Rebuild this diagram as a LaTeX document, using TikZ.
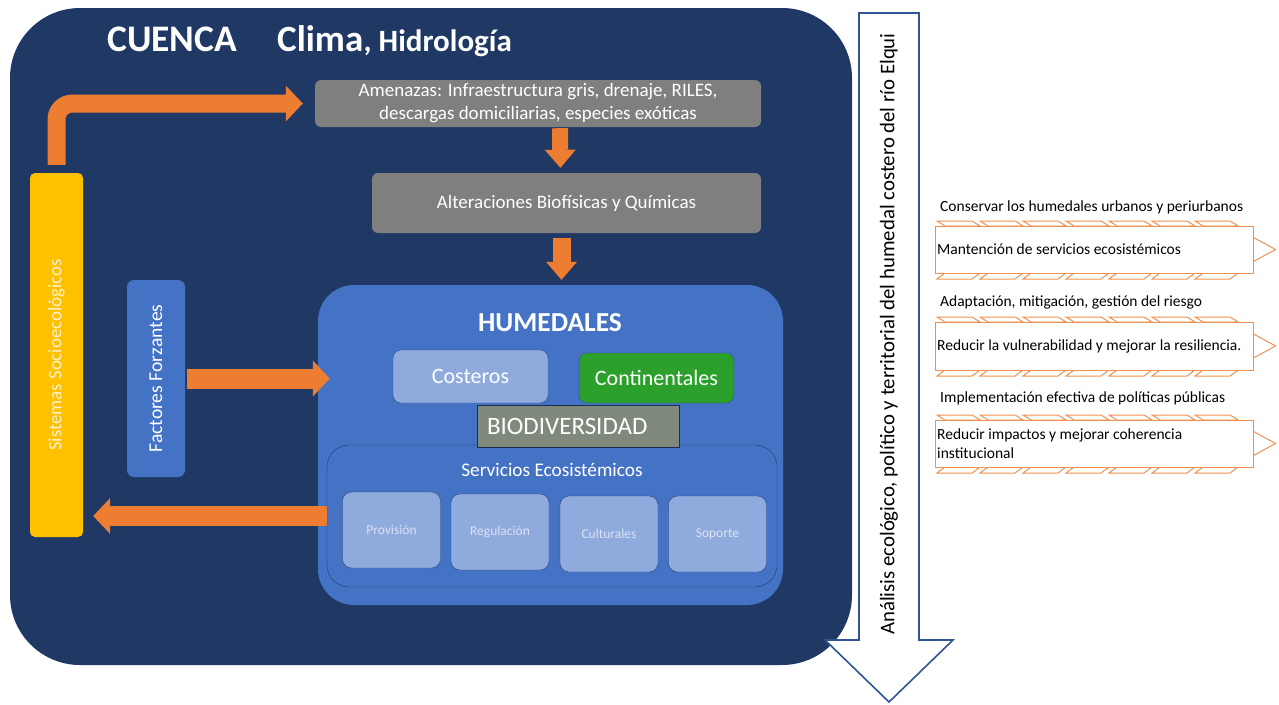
\documentclass[tikz,border=0pt]{standalone}
\usepackage{fontspec}
\setmainfont{Carlito}
\usepackage{tikz}
\usetikzlibrary{arrows.meta,positioning}
\definecolor{cuencablue}{RGB}{32,56,100}
\definecolor{naranja}{RGB}{237,125,49}
\definecolor{gris}{RGB}{127,127,127}
\definecolor{humblue}{RGB}{68,114,196}
\definecolor{celeste}{RGB}{143,170,220}
\definecolor{verde}{RGB}{43,160,43}
\definecolor{biogris}{RGB}{128,138,124}
\definecolor{amarillo}{RGB}{255,192,0}
\definecolor{crema}{RGB}{255,242,204}
\definecolor{flecha}{RGB}{47,85,151}
\definecolor{textoclaro}{RGB}{220,228,243}
\newcommand{\fsz}[2]{\fontsize{#1}{#2}\selectfont}

\begin{document}
\begin{tikzpicture}[x=1pt,y=-1pt,
  caja/.style={rounded corners=6pt, inner sep=0pt, align=center, text=white, font=\fsz{19}{23}},
  titulo/.style={anchor=base west, inner sep=0pt, text=white, font=\bfseries\fsz{37.5}{42}},
  flechita/.style={draw=naranja, line width=18pt, -{Triangle[width=36pt,length=17pt,line width=0pt]}},
  bajada/.style={draw=naranja, line width=16pt, -{Triangle[width=31pt,length=18pt,line width=0pt]}},
  servicio/.style={caja, fill=celeste, draw=humblue!60!black, minimum width=98pt, minimum height=76pt,
    rounded corners=9pt, text=textoclaro, font=\fsz{13.5}{16}},
  objetivo/.style={draw=naranja!85, line width=1pt, fill=white, minimum width=318pt, inner sep=0pt},
  meta/.style={anchor=west, inner sep=0pt, align=left, font=\fsz{15.5}{19}}]
  \useasboundingbox (0,0) rectangle (1279,704);

  % cuenca
  \node[fill=cuencablue, rounded corners=70pt, minimum width=842pt, minimum height=657pt] (cuenca) at (431,336.5) {};
  \node[titulo] (cuencat) at (107,51) {CUENCA};
  \node[titulo, font=\bfseries\fsz{37}{42}] (clima) at (277,51) {Clima};
  \node[titulo, anchor=base west, font=\bfseries\fsz{31}{36}] (hidro) at (clima.base east) {, Hidrología};

  % amenazas y alteraciones
  \node[caja, fill=gris, minimum width=446pt, minimum height=47pt] (amen) at (538,103.5)
    {Amenazas: Infraestructura gris, drenaje, RILES,\\descargas domiciliarias, especies exóticas};
  \node[caja, fill=gris, minimum width=389pt, minimum height=60pt] (alt) at (566.5,203)
    {Alteraciones Biofísicas y Químicas};

  % humedales
  \node[caja, fill=humblue, rounded corners=36pt, minimum width=465pt, minimum height=320pt] (hum) at (550.5,445) {};
  \node[text=white, font=\bfseries\fsz{27.5}{32}] (humt) at (550,323) {HUMEDALES};
  \node[caja, fill=celeste, draw=humblue!70!black, rounded corners=8pt, minimum width=155pt, minimum height=53pt,
    font=\fsz{22}{26}] (cost) at (470.5,376.5) {Costeros};
  \node[caja, fill=verde, draw=humblue!70!black, rounded corners=8pt, minimum width=155pt, minimum height=50pt,
    font=\fsz{22}{26}] (cont) at (656.5,378) {Continentales};
  \node[caja, fill=humblue, draw=humblue!55!black, rounded corners=22pt, minimum width=450pt, minimum height=142pt] (serv) at (552,516) {};
  \node[caja, fill=biogris, draw=cuencablue!80!black, line width=1pt, rounded corners=0pt, text width=182pt,
    inner xsep=10pt, align=left, minimum height=42pt, font=\fsz{25}{28}] (bio) at (578,426) {BIODIVERSIDAD};
  \node[text=white, font=\fsz{19.3}{22}] (servt) at (552,470) {Servicios Ecosistémicos};
  \node[servicio] (prov) at (391.5,530) {Provisión};
  \node[servicio] (reg) at (500,532) {Regulación};
  \node[servicio] (cult) at (609,534) {Culturales};
  \node[servicio] (sop) at (717.5,534) {Soporte};

  % sistemas y factores
  \node[caja, fill=amarillo, rounded corners=5pt, minimum width=53pt, minimum height=364pt] (sist) at (56.5,355) {};
  \node[rotate=90, text=crema, font=\fsz{18.8}{22}] (sistt) at (sist.center) {Sistemas Socioecológicos};
  \node[caja, fill=humblue, rounded corners=7pt, minimum width=58pt, minimum height=197pt] (ffor) at (156,378.5) {};
  \node[rotate=90, text=white, font=\fsz{19.6}{22}] (ffort) at (ffor.center) {Factores Forzantes};

  % flechas naranjas
  \draw[flechita, rounded corners=16pt, shorten <=8pt, shorten >=12pt] (sist.north) |- (amen.west);
  \draw[bajada, shorten <=1pt, shorten >=5pt] ([xshift=22pt]amen.south) -- ([xshift=-6pt]alt.north);
  \draw[bajada, line width=18pt, shorten <=5pt, shorten >=5pt] ([xshift=-5pt]alt.south) -- ([xshift=-5pt]alt.south |- hum.north);
  \draw[flechita, line width=20pt, shorten <=2pt, shorten >=-12pt] (ffor.east) -- (ffor.east -| hum.west);
  \draw[flechita, line width=20pt, shorten >=10pt] (serv.west) -- (serv.west -| sist.east);

  % flecha de analisis
  \draw[draw=flecha, line width=1.6pt, fill=white, line join=miter]
    (859,13) -- (919,13) -- (919,640) -- (953,640) -- (889,702) -- (825,640) -- (859,640) -- cycle;
  \node[rotate=90, font=\fsz{20.8}{24}] (analisis) at (889,334)
    {Análisis ecológico, político y territorial del humedal costero del río Elqui};

  % objetivos
  \foreach \hy/\by/\bh/\meta/\obj [count=\i] in {
      207/249.5/47/{Conservar los humedales urbanos y periurbanos}/{Mantención de servicios ecosistémicos},
      302/346/48/{Adaptación, mitigación, gestión del riesgo}/{Reducir la vulnerabilidad y mejorar la resiliencia.},
      398/443.5/47/{Implementación efectiva de políticas públicas}/{Reducir impactos y mejorar coherencia\\institucional}}{
    \node[meta] (meta\i) at (940,\hy) {\meta};
    \foreach \k in {0,...,6}{
      \draw[naranja!85, line width=1pt, fill=white] (937+43*\k,\by-\bh/2-5) -- ++(35,0) -- ++(8,5) -- ++(-35,0) -- cycle;
      \draw[naranja!85, line width=1pt, fill=white] (937+43*\k,\by+\bh/2+6) -- ++(35,0) -- ++(8,-6) -- ++(-35,0) -- cycle;
    }
    \node[objetivo, minimum height=\bh pt] (obj\i) at (1094,\by) {};
    \node[meta] (objt\i) at (937,\by) {\obj};
    \draw[naranja!85, line width=1pt] ([yshift=12pt]obj\i.east) -- ([xshift=22pt]obj\i.east) -- ([yshift=-12pt]obj\i.east);
  }
\end{tikzpicture}
\end{document}
